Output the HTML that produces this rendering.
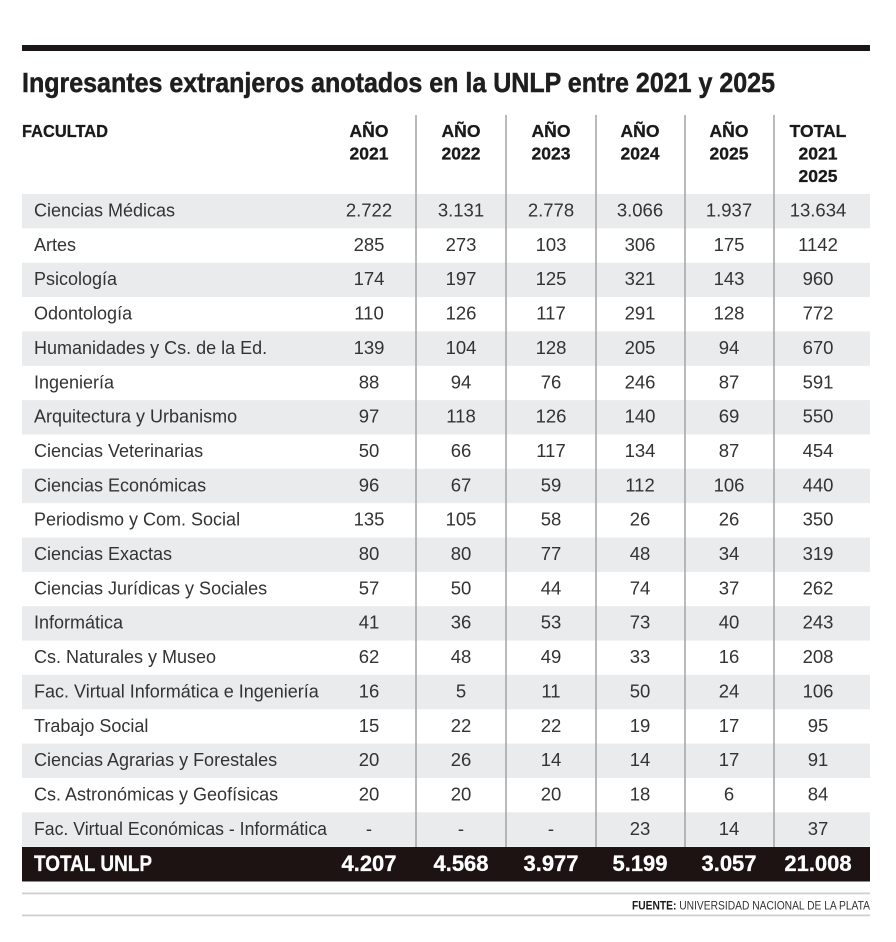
<!DOCTYPE html>
<html><head><meta charset="utf-8">
<style>
html,body{margin:0;padding:0;background:#fff;}
svg{display:block;}
text{font-family:"Liberation Sans",Arial,sans-serif;}
.n{font-size:18.5px;fill:#333;text-anchor:middle;}
.f{font-size:18px;fill:#333;}
.h{font-size:17.5px;font-weight:bold;fill:#1a1a1a;text-anchor:middle;stroke:#1a1a1a;stroke-width:0.3;}
.t{font-size:22px;font-weight:bold;fill:#fff;text-anchor:middle;stroke:#fff;stroke-width:0.3;}
</style></head>
<body>
<svg width="896" height="942" viewBox="0 0 896 942" xmlns="http://www.w3.org/2000/svg">
<rect x="0" y="0" width="896" height="942" fill="#fff"/>
<rect x="22" y="45" width="848" height="6" fill="#1c1616"/>
<text x="22" y="92" font-size="28" font-weight="bold" fill="#1e1e1e" stroke="#1e1e1e" stroke-width="0.5" textLength="753" lengthAdjust="spacingAndGlyphs">Ingresantes extranjeros anotados en la UNLP entre 2021 y 2025</text>

<!-- header -->
<text x="22" y="137" font-size="17.5" font-weight="bold" fill="#1a1a1a" stroke="#1a1a1a" stroke-width="0.3" textLength="86" lengthAdjust="spacingAndGlyphs">FACULTAD</text>
<text class="h" x="369" y="137">AÑO</text><text class="h" x="369" y="159.5">2021</text>
<text class="h" x="461" y="137">AÑO</text><text class="h" x="461" y="159.5">2022</text>
<text class="h" x="551" y="137">AÑO</text><text class="h" x="551" y="159.5">2023</text>
<text class="h" x="640" y="137">AÑO</text><text class="h" x="640" y="159.5">2024</text>
<text class="h" x="729" y="137">AÑO</text><text class="h" x="729" y="159.5">2025</text>
<text class="h" x="818" y="137">TOTAL</text><text class="h" x="818" y="159.5">2021</text><text class="h" x="818" y="182">2025</text>

<!-- stripes -->
<g fill="#e9ebec">
<rect x="22" y="194" width="848" height="34.35"/>
<rect x="22" y="262.7" width="848" height="34.35"/>
<rect x="22" y="331.4" width="848" height="34.35"/>
<rect x="22" y="400.1" width="848" height="34.35"/>
<rect x="22" y="468.8" width="848" height="34.35"/>
<rect x="22" y="537.5" width="848" height="34.35"/>
<rect x="22" y="606.2" width="848" height="34.35"/>
<rect x="22" y="674.9" width="848" height="34.35"/>
<rect x="22" y="743.6" width="848" height="34.35"/>
<rect x="22" y="812.3" width="848" height="34.35"/>
</g>

<!-- dividers -->
<g stroke="#a3a3a3" stroke-width="1.5">
<line x1="416" y1="115" x2="416" y2="847"/>
<line x1="506" y1="115" x2="506" y2="847"/>
<line x1="596" y1="115" x2="596" y2="847"/>
<line x1="685" y1="115" x2="685" y2="847"/>
<line x1="774" y1="115" x2="774" y2="847"/>
</g>

<!-- rows -->
<g transform="translate(0,216.5)"><text class="f" x="34" y="0">Ciencias Médicas</text><text class="n" x="369">2.722</text><text class="n" x="461">3.131</text><text class="n" x="551">2.778</text><text class="n" x="640">3.066</text><text class="n" x="729">1.937</text><text class="n" x="818">13.634</text></g>
<g transform="translate(0,250.85)"><text class="f" x="34" y="0">Artes</text><text class="n" x="369">285</text><text class="n" x="461">273</text><text class="n" x="551">103</text><text class="n" x="640">306</text><text class="n" x="729">175</text><text class="n" x="818">1142</text></g>
<g transform="translate(0,285.2)"><text class="f" x="34" y="0">Psicología</text><text class="n" x="369">174</text><text class="n" x="461">197</text><text class="n" x="551">125</text><text class="n" x="640">321</text><text class="n" x="729">143</text><text class="n" x="818">960</text></g>
<g transform="translate(0,319.55)"><text class="f" x="34" y="0">Odontología</text><text class="n" x="369">110</text><text class="n" x="461">126</text><text class="n" x="551">117</text><text class="n" x="640">291</text><text class="n" x="729">128</text><text class="n" x="818">772</text></g>
<g transform="translate(0,353.9)"><text class="f" x="34" y="0">Humanidades y Cs. de la Ed.</text><text class="n" x="369">139</text><text class="n" x="461">104</text><text class="n" x="551">128</text><text class="n" x="640">205</text><text class="n" x="729">94</text><text class="n" x="818">670</text></g>
<g transform="translate(0,388.25)"><text class="f" x="34" y="0">Ingeniería</text><text class="n" x="369">88</text><text class="n" x="461">94</text><text class="n" x="551">76</text><text class="n" x="640">246</text><text class="n" x="729">87</text><text class="n" x="818">591</text></g>
<g transform="translate(0,422.6)"><text class="f" x="34" y="0">Arquitectura y Urbanismo</text><text class="n" x="369">97</text><text class="n" x="461">118</text><text class="n" x="551">126</text><text class="n" x="640">140</text><text class="n" x="729">69</text><text class="n" x="818">550</text></g>
<g transform="translate(0,456.95)"><text class="f" x="34" y="0">Ciencias Veterinarias</text><text class="n" x="369">50</text><text class="n" x="461">66</text><text class="n" x="551">117</text><text class="n" x="640">134</text><text class="n" x="729">87</text><text class="n" x="818">454</text></g>
<g transform="translate(0,491.3)"><text class="f" x="34" y="0">Ciencias Económicas</text><text class="n" x="369">96</text><text class="n" x="461">67</text><text class="n" x="551">59</text><text class="n" x="640">112</text><text class="n" x="729">106</text><text class="n" x="818">440</text></g>
<g transform="translate(0,525.65)"><text class="f" x="34" y="0">Periodismo y Com. Social</text><text class="n" x="369">135</text><text class="n" x="461">105</text><text class="n" x="551">58</text><text class="n" x="640">26</text><text class="n" x="729">26</text><text class="n" x="818">350</text></g>
<g transform="translate(0,560)"><text class="f" x="34" y="0">Ciencias Exactas</text><text class="n" x="369">80</text><text class="n" x="461">80</text><text class="n" x="551">77</text><text class="n" x="640">48</text><text class="n" x="729">34</text><text class="n" x="818">319</text></g>
<g transform="translate(0,594.35)"><text class="f" x="34" y="0">Ciencias Jurídicas y Sociales</text><text class="n" x="369">57</text><text class="n" x="461">50</text><text class="n" x="551">44</text><text class="n" x="640">74</text><text class="n" x="729">37</text><text class="n" x="818">262</text></g>
<g transform="translate(0,628.7)"><text class="f" x="34" y="0">Informática</text><text class="n" x="369">41</text><text class="n" x="461">36</text><text class="n" x="551">53</text><text class="n" x="640">73</text><text class="n" x="729">40</text><text class="n" x="818">243</text></g>
<g transform="translate(0,663.05)"><text class="f" x="34" y="0">Cs. Naturales y Museo</text><text class="n" x="369">62</text><text class="n" x="461">48</text><text class="n" x="551">49</text><text class="n" x="640">33</text><text class="n" x="729">16</text><text class="n" x="818">208</text></g>
<g transform="translate(0,697.4)"><text class="f" x="34" y="0">Fac. Virtual Informática e Ingeniería</text><text class="n" x="369">16</text><text class="n" x="461">5</text><text class="n" x="551">11</text><text class="n" x="640">50</text><text class="n" x="729">24</text><text class="n" x="818">106</text></g>
<g transform="translate(0,731.75)"><text class="f" x="34" y="0">Trabajo Social</text><text class="n" x="369">15</text><text class="n" x="461">22</text><text class="n" x="551">22</text><text class="n" x="640">19</text><text class="n" x="729">17</text><text class="n" x="818">95</text></g>
<g transform="translate(0,766.1)"><text class="f" x="34" y="0">Ciencias Agrarias y Forestales</text><text class="n" x="369">20</text><text class="n" x="461">26</text><text class="n" x="551">14</text><text class="n" x="640">14</text><text class="n" x="729">17</text><text class="n" x="818">91</text></g>
<g transform="translate(0,800.45)"><text class="f" x="34" y="0">Cs. Astronómicas y Geofísicas</text><text class="n" x="369">20</text><text class="n" x="461">20</text><text class="n" x="551">20</text><text class="n" x="640">18</text><text class="n" x="729">6</text><text class="n" x="818">84</text></g>
<g transform="translate(0,834.8)"><text class="f" x="34" y="0" textLength="293" lengthAdjust="spacingAndGlyphs">Fac. Virtual Económicas - Informática</text><text class="n" x="369">-</text><text class="n" x="461">-</text><text class="n" x="551">-</text><text class="n" x="640">23</text><text class="n" x="729">14</text><text class="n" x="818">37</text></g>

<!-- total -->
<rect x="22" y="847" width="848" height="34.5" fill="#1d1313"/>
<text x="34" y="871" font-size="22" font-weight="bold" fill="#fff" stroke="#fff" stroke-width="0.3" textLength="118" lengthAdjust="spacingAndGlyphs">TOTAL UNLP</text>
<text class="t" x="369" y="871">4.207</text>
<text class="t" x="461" y="871">4.568</text>
<text class="t" x="551" y="871">3.977</text>
<text class="t" x="640" y="871">5.199</text>
<text class="t" x="729" y="871">3.057</text>
<text class="t" x="818" y="871">21.008</text>

<!-- footer -->
<rect x="22" y="892.5" width="848" height="1.8" fill="#cfcfcf"/>
<rect x="22" y="914.5" width="848" height="1.8" fill="#cfcfcf"/>
<text x="632" y="909.5" font-size="12" fill="#333" textLength="238" lengthAdjust="spacingAndGlyphs"><tspan font-weight="bold" fill="#1a1a1a">FUENTE:</tspan> UNIVERSIDAD NACIONAL DE LA PLATA</text>
</svg>
</body></html>
